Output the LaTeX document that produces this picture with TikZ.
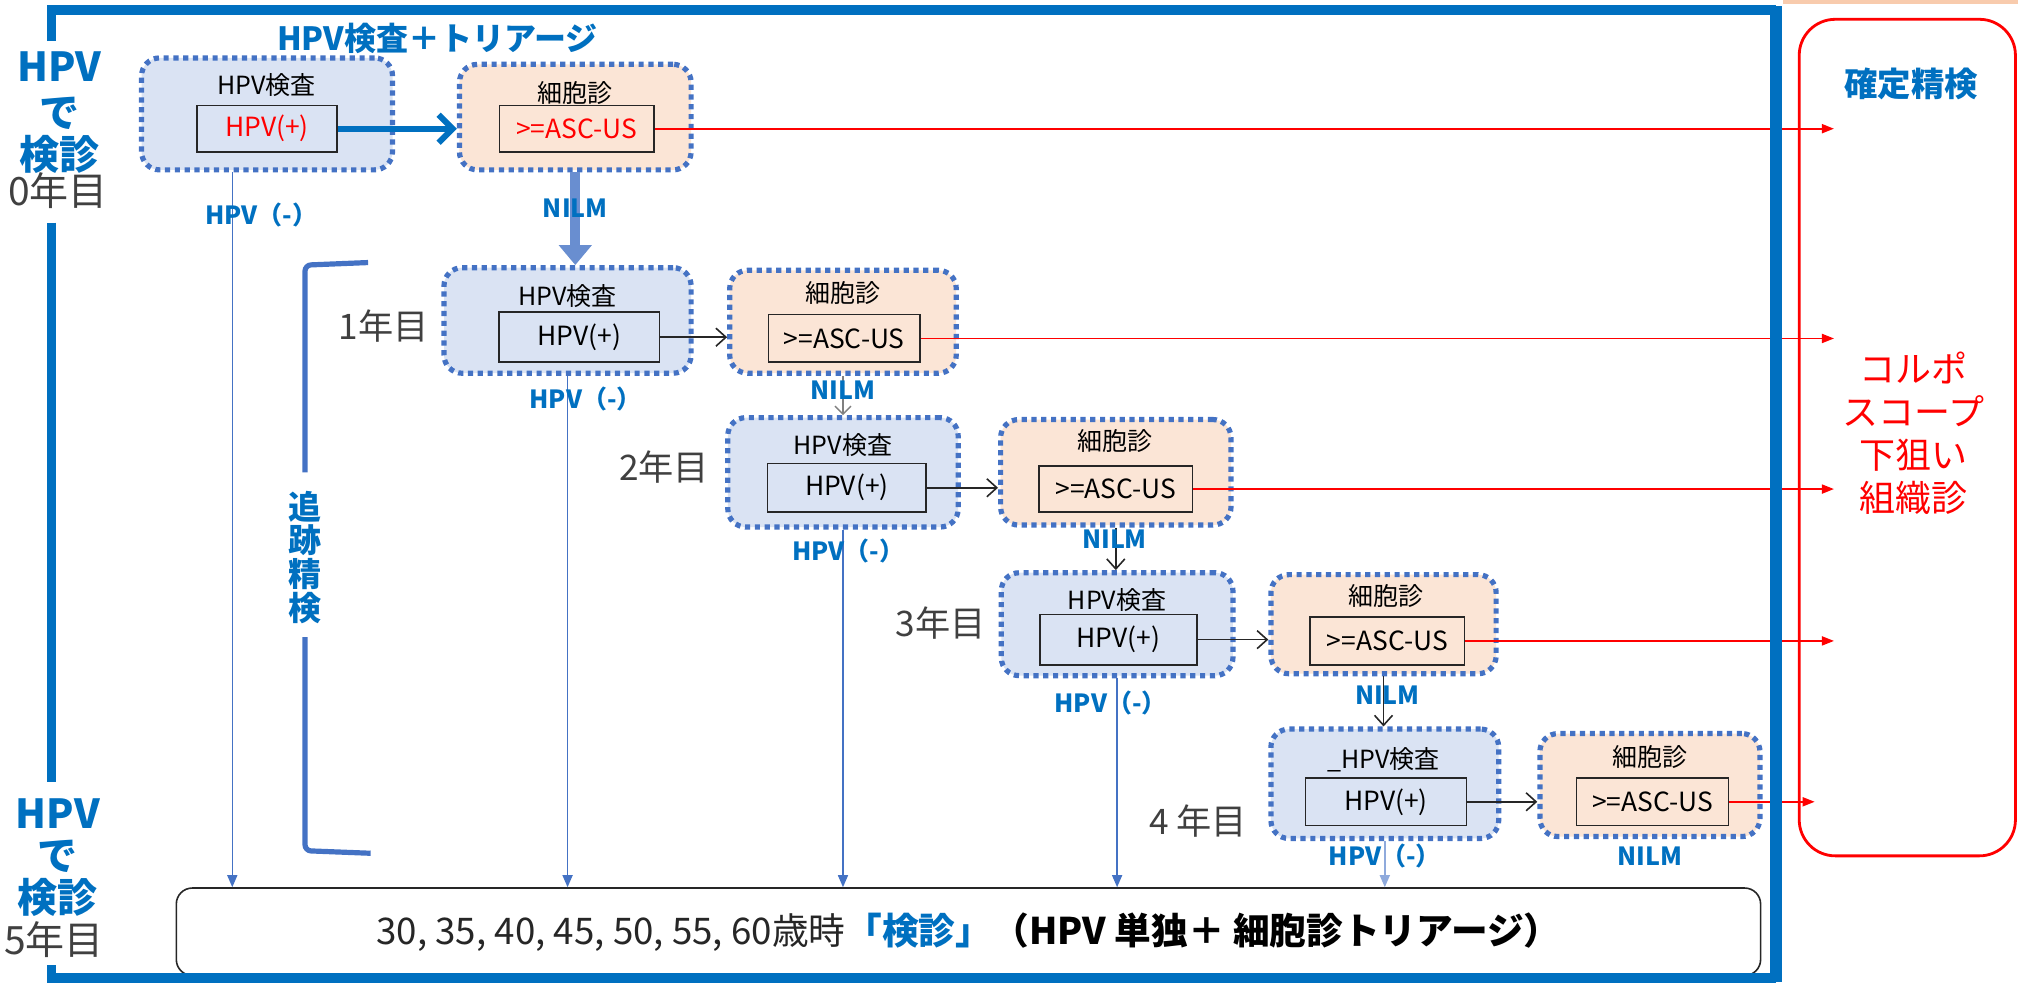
\documentclass[tikz,border=0pt]{standalone}
\usepackage{fontspec}
\setmainfont{Noto Sans CJK JP}
\usetikzlibrary{arrows.meta,calc}
\definecolor{frameblue}{HTML}{0070C0}
\definecolor{dotblue}{HTML}{4472C4}
\definecolor{boxblue}{HTML}{DAE3F3}
\definecolor{boxorange}{HTML}{FBE5D6}
\definecolor{txtgray}{HTML}{404040}
\definecolor{inkblack}{HTML}{262626}
\definecolor{peach}{HTML}{F8CBAD}
\begin{document}
\begin{tikzpicture}[x=0.6435pt,y=-0.6435pt,
  sz/.style 2 args={minimum width=#1*0.6435pt, minimum height=#2*0.6435pt},
  hbox/.style={draw=dotblue, line width=2.6pt, dash pattern=on 2.6pt off 2.3pt, fill=boxblue, rounded corners=9pt, inner sep=0pt},
  obox/.style={hbox, fill=boxorange},
  inbox/.style={draw=inkblack, line width=0.8pt, inner sep=0pt, font=\fontsize{13.2}{15}\selectfont},
  ttl/.style={inner sep=0pt, font=\fontsize{12.5}{14}\selectfont, text=black},
  yr/.style={inner sep=0pt, font=\fontsize{17.6}{20}\selectfont, text=txtgray},
  lab/.style={inner sep=0pt, font=\bfseries\fontsize{12.5}{14}\selectfont, text=frameblue},
  side/.style={inner sep=0pt, font=\bfseries\fontsize{20}{22}\selectfont, text=frameblue},
  sideyr/.style={inner sep=0pt, font=\fontsize{19.5}{22}\selectfont, text=txtgray},
  negarr/.style={draw=dotblue, line width=0.7pt, -{Triangle[length=6pt,width=5pt]}},
  blkarr/.style={draw=inkblack, line width=0.8pt, -{Straight Barb[length=5pt,width=9pt]}},
  redarr/.style={draw=red, line width=0.9pt, -{Triangle[length=6pt,width=4.5pt]}},
]
\useasboundingbox (0,0) rectangle (1568,764);
\fill[peach] (1385,0) rectangle (1568,3);

% red box
\draw[red, line width=1.4pt, rounded corners=18pt] (1398,15) rectangle (1566,665);
\node[inner sep=0pt, font=\bfseries\fontsize{16.7}{18}\selectfont, text=frameblue] (KT) at (1485,65) {確定精検};
\node[inner sep=0pt, align=center, font=\fontsize{18}{21.5}\selectfont, text=red] (KS) at (1487,337) {コルポ\\スコープ\\下狙い\\組織診};

% bottom box
\node[draw=inkblack, line width=0.8pt, rounded corners=8pt, fill=white, sz={1231}{68}, inner sep=0pt, font=\fontsize{18.35}{20}\selectfont] (Bot) at (752.5,724)
  {{\color{inkblack}30, 35, 40, 45, 50, 55, 60歳時}{\bfseries\color{frameblue}「検診」}{\bfseries\color{black}（HPV 単独＋ 細胞診トリアージ）}};

% boxes
\node[hbox, sz={195}{87}] (B0) at (207.5,88.5) {};
\node[obox, sz={180}{82}] (C0) at (447,91) {};
\node[hbox, sz={192}{82}] (B1) at (441,249) {};
\node[obox, sz={176}{80}] (C1) at (655,250) {};
\node[hbox, sz={179}{85}] (B2) at (655,367) {};
\node[obox, sz={179}{82}] (C2) at (867,367) {};
\node[hbox, sz={180}{80}] (B3) at (868,485) {};
\node[obox, sz={175}{77}] (C3) at (1075,485) {};
\node[hbox, sz={177}{85}] (B4) at (1076,609) {};
\node[obox, sz={171}{80}] (C4) at (1282,610) {};

% titles
\node[ttl] (B0t) at (207,66) {HPV検査};
\node[ttl] (C0t) at (447,72) {細胞診};
\node[ttl] (B1t) at (441,230) {HPV検査};
\node[ttl] (C1t) at (655,228) {細胞診};
\node[ttl] (B2t) at (655,346) {HPV検査};
\node[ttl] (C2t) at (866,343) {細胞診};
\node[ttl] (B3t) at (868,466) {HPV検査};
\node[ttl] (C3t) at (1077,463) {細胞診};
\node[ttl] (B4t) at (1075,590) {\_HPV検査};
\node[ttl] (C4t) at (1282,588) {細胞診};

% inner boxes
\node[inbox, fill=boxblue, sz={109}{36}, text=red] (P0) at (207.5,100) {HPV(+)};
\node[inbox, fill=boxorange, sz={120}{36}, text=red] (Q0) at (448,100) {>=ASC-US};
\node[inbox, fill=boxblue, sz={125}{39}] (P1) at (450,262) {HPV(+)};
\node[inbox, fill=boxorange, sz={118}{37}] (Q1) at (656,263) {>=ASC-US};
\node[inbox, fill=boxblue, sz={123}{38}] (P2) at (658,379) {HPV(+)};
\node[inbox, fill=boxorange, sz={119}{36}] (Q2) at (867,380) {>=ASC-US};
\node[inbox, fill=boxblue, sz={122}{39}] (P3) at (869,497) {HPV(+)};
\node[inbox, fill=boxorange, sz={120}{37}] (Q3) at (1078,498) {>=ASC-US};
\node[inbox, fill=boxblue, sz={125}{37}] (P4) at (1077,623) {HPV(+)};
\node[inbox, fill=boxorange, sz={118}{37}] (Q4) at (1284,623) {>=ASC-US};

% red arrows
\coordinate (T) at (1425,0);
\coordinate (T4) at (1410,0);
\draw[redarr] (Q0.east) -- (Q0.east -| T);
\draw[redarr] (Q1.east) -- (Q1.east -| T);
\draw[redarr] (Q2.east) -- (Q2.east -| T);
\draw[redarr] (Q3.east) -- (Q3.east -| T);
\draw[redarr] (Q4.east) -- (Q4.east -| T4);

% HPV(+) -> cytology arrows
\draw[draw=frameblue, line width=3pt, -{Straight Barb[length=7pt,width=14pt]}] (P0.east) -- (P0.east -| C0.west);
\draw[blkarr] (P1.east) -- (P1.east -| C1.west);
\draw[blkarr] (P2.east) -- (P2.east -| C2.west);
\draw[blkarr] (P3.east) -- (P3.east -| C3.west);
\draw[blkarr] (P4.east) -- (P4.east -| C4.west);

% NILM arrows
\draw[draw=dotblue!80, line width=5pt, -{Triangle[length=10pt,width=16pt]}] (C0.south) -- (C0.south |- B1.north);
\draw[draw=gray, line width=0.7pt, -{Straight Barb[length=4pt,width=8pt]}] (C1.south) -- (C1.south |- B2.north);
\draw[blkarr] (C2.south) -- (C2.south |- B3.north);
\draw[blkarr] (C3.south) -- (C3.south |- B4.north);

% HPV(-) arrows
\coordinate (N0) at ($(B0.south)+(-27,0)$);
\draw[negarr] (N0) -- (N0 |- Bot.north);
\draw[negarr] (B1.south) -- (B1.south |- Bot.north);
\draw[negarr] (B2.south) -- (B2.south |- Bot.north);
\draw[negarr] (B3.south) -- (B3.south |- Bot.north);
\draw[negarr, draw=dotblue!60] (B4.south) -- (B4.south |- Bot.north);

% labels
\node[lab] (L0) at (203,167) {HPV（-）};
\node[lab] (L1) at (455,310) {HPV（-）};
\node[lab] (L2) at (659,428) {HPV（-）};
\node[lab] (L3) at (863,546) {HPV（-）};
\node[lab] (L4) at (1076,665) {HPV（-）};
\node[lab] (M0) at (447,162) {NILM};
\node[lab] (M1) at (655,303) {NILM};
\node[lab] (M2) at (866,419) {NILM};
\node[lab] (M3) at (1078,540) {NILM};
\node[lab] (M4) at (1282,665) {NILM};

% year labels
\node[yr] (Y1) at (298,253) {1年目};
\node[yr] (Y2) at (516,363) {2年目};
\node[yr] (Y3) at (731,484) {3年目};
\node[yr] (Y4) at (931,638) {4 年目};

% title
\node[inner sep=0pt, font=\bfseries\fontsize{16}{18}\selectfont, text=frameblue] (TT) at (340,30) {HPV検査＋トリアージ};

% bracket
\draw[dotblue, line width=2.6pt, rounded corners=3pt] (286,204) -- (237,206) -- (237,367);
\draw[dotblue, line width=2.6pt, rounded corners=3pt] (237,495) -- (237,661) -- (288,663);
\node[inner sep=0pt, align=center, font=\bfseries\fontsize{16.5}{16.8}\selectfont, text=frameblue] (TS) at (237,433) {追\\跡\\精\\検};

% frame
\draw[frameblue, line width=4.8pt] (40,32) -- (40,8) -- (1380,8);
\draw[frameblue, line width=5.7pt] (1380,5) -- (1380,763);
\draw[frameblue, line width=4.8pt] (1380,760) -- (40,760) -- (40,750);
\draw[frameblue, line width=4.8pt] (40,173) -- (40,608);

% side labels
\node[side] (S0a) at (46,52) {HPV};
\node[side] (S0b) at (46,88) {で};
\node[side] (S0c) at (46,120) {検診};
\node[sideyr] (S0d) at (45,148) {0年目};
\node[side] (S5a) at (45,632) {HPV};
\node[side] (S5b) at (45,665) {で};
\node[side] (S5c) at (45,697) {検診};
\node[sideyr] (S5d) at (42,730) {5年目};
\end{tikzpicture}
\end{document}
